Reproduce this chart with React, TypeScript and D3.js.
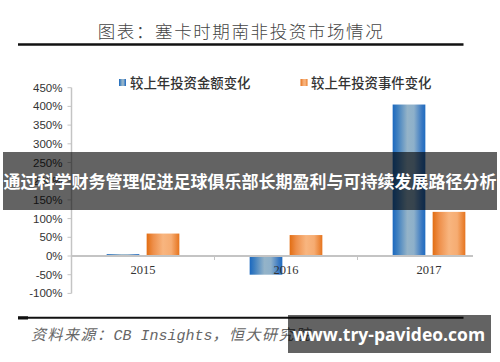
import React from "react";
import * as d3 from "d3";

const years = ["2015", "2016", "2017"];
const amountChange = [5, -50, 405];
const eventChange = [60, 56, 118];
const yTicks = [-100, -50, 0, 50, 100, 150, 200, 250, 300, 350, 400, 450];
const seriesNames = ["较上年投资金额变化", "较上年投资事件变化"];
const title = "图表：塞卡时期南非投资市场情况";
const sourceParts = ["资料来源：", "CB Insights", "，恒大研究院"];
const banner = "通过科学财务管理促进足球俱乐部长期盈利与可持续发展路径分析";
const watermark = "www.try-pavideo.com";

export default function App() {
  const W = 500, H = 362;
  const x0 = d3.scaleBand<string>().domain(years).range([71.5, 500.5]).padding(0);
  const x1 = d3
    .scaleBand<string>()
    .domain(["a", "e"])
    .range([0, x0.bandwidth()])
    .paddingInner(0.1825)
    .paddingOuter(0.879);
  const y = d3.scaleLinear().domain([-100, 450]).range([293.4, 87.7]);
  const cjk = "'Noto Sans CJK SC', sans-serif";
  const serif = "'Liberation Serif', 'DejaVu Serif', serif";

  return (
    <svg
      width={W}
      height={H}
      style={{ position: "absolute", left: 0, top: 0, background: "#fff" }}
    >
      <defs>
        <linearGradient id="gBlue" x1="0" x2="1" y1="0" y2="0">
          <stop offset="0" stopColor="#1a68bf" />
          <stop offset="0.15" stopColor="#3f80c0" />
          <stop offset="0.45" stopColor="#94b3c8" />
          <stop offset="0.65" stopColor="#8eb0ca" />
          <stop offset="0.9" stopColor="#3777c2" />
          <stop offset="1" stopColor="#1f6cc0" />
        </linearGradient>
        <linearGradient id="gOrange" x1="0" x2="1" y1="0" y2="0">
          <stop offset="0" stopColor="#e26d12" />
          <stop offset="0.2" stopColor="#ee8f4a" />
          <stop offset="0.5" stopColor="#f8b57f" />
          <stop offset="0.75" stopColor="#f6ac72" />
          <stop offset="1" stopColor="#e6741e" />
        </linearGradient>
      </defs>

      {/* title */}
      <text
        x={241}
        y={38}
        textAnchor="middle"
        fontFamily={cjk}
        fontSize={17.5}
        fontWeight={300}
        letterSpacing={1.6}
        fill="#444"
      >
        {title}
      </text>
      <line x1={18} x2={463.5} y1={44.5} y2={44.5} stroke="#111" strokeWidth={2.6} />

      {/* legend */}
      <rect x={119} y={79} width={7} height={7} fill="url(#gBlue)" />
      <text x={130} y={88} fontFamily={cjk} fontSize={13.4} fontWeight={500} fill="#333">
        {seriesNames[0]}
      </text>
      <rect x={300.5} y={79} width={7} height={7} fill="url(#gOrange)" />
      <text x={311} y={88} fontFamily={cjk} fontSize={13.4} fontWeight={500} fill="#333">
        {seriesNames[1]}
      </text>

      {/* y axis */}
      <line x1={71.5} x2={71.5} y1={y(450)} y2={y(-100)} stroke="#c4c4c4" strokeWidth={1.5} />
      {yTicks.map((t) => (
        <g key={t}>
          <line x1={67.5} x2={71.5} y1={y(t)} y2={y(t)} stroke="#c4c4c4" strokeWidth={1} />
          <text
            x={62.5}
            y={y(t) + 4}
            textAnchor="end"
            fontFamily="'Liberation Sans', 'DejaVu Sans', sans-serif"
            fontSize={11.5}
            fill="#333"
          >
            {t + "%"}
          </text>
        </g>
      ))}

      {/* bars */}
      {years.map((yr, i) => {
        const bx = x0(yr)!;
        const a = amountChange[i];
        const e = eventChange[i];
        return (
          <g key={yr}>
            <rect
              x={bx + x1("a")!}
              y={Math.min(y(a), y(0))}
              width={x1.bandwidth()}
              height={Math.abs(y(a) - y(0))}
              fill="url(#gBlue)"
            />
            <rect
              x={bx + x1("e")!}
              y={Math.min(y(e), y(0))}
              width={x1.bandwidth()}
              height={Math.abs(y(e) - y(0))}
              fill="url(#gOrange)"
            />
          </g>
        );
      })}

      {/* zero line & category ticks */}
      <line x1={71.5} x2={473} y1={y(0)} y2={y(0)} stroke="#c4c4c4" strokeWidth={1.8} />
      {years.slice(1).map((yr) => (
        <line
          key={yr}
          x1={x0(yr)!}
          x2={x0(yr)!}
          y1={y(0)}
          y2={y(0) + 4}
          stroke="#c4c4c4"
          strokeWidth={1}
        />
      ))}
      {years.map((yr) => (
        <text
          key={yr}
          x={x0(yr)! + x0.bandwidth() / 2}
          y={273.5}
          textAnchor="middle"
          fontFamily={serif}
          fontSize={12.5}
          fill="#333"
        >
          {yr}
        </text>
      ))}

      {/* bottom rule & source */}
      <line x1={18} x2={463.5} y1={317.8} y2={317.8} stroke="#111" strokeWidth={2} />
      <rect x={18} y={316.3} width={10} height={3.2} fill="#111" />
      <text x={31} y={340} fontSize={15} fontStyle="italic" fill="#666">
        <tspan fontFamily={cjk} letterSpacing={1.5}>{sourceParts[0]}</tspan>
        <tspan fontFamily="'Liberation Mono', 'DejaVu Sans Mono', monospace" fontSize={15}>
          {sourceParts[1]}
        </tspan>
        <tspan fontFamily={cjk} letterSpacing={1.5}>{sourceParts[2]}</tspan>
      </text>

      {/* banner overlay */}
      <rect x={3} y={152} width={494} height={58} fill="rgba(0,0,0,0.61)" />
      <text
        x={250}
        y={187.5}
        textAnchor="middle"
        fontFamily={cjk}
        fontSize={17}
        fontWeight={700}
        fill="#fff"
      >
        {banner}
      </text>

      {/* watermark */}
      <rect x={288} y={315} width={203} height={38} fill="rgba(0,0,0,0.61)" />
      <text
        x={389}
        y={341}
        textAnchor="middle"
        fontFamily="'Open Sans', 'Noto Sans', sans-serif"
        fontSize={17.5}
        fontWeight={700}
        fill="#fff"
      >
        {watermark}
      </text>
    </svg>
  );
}
